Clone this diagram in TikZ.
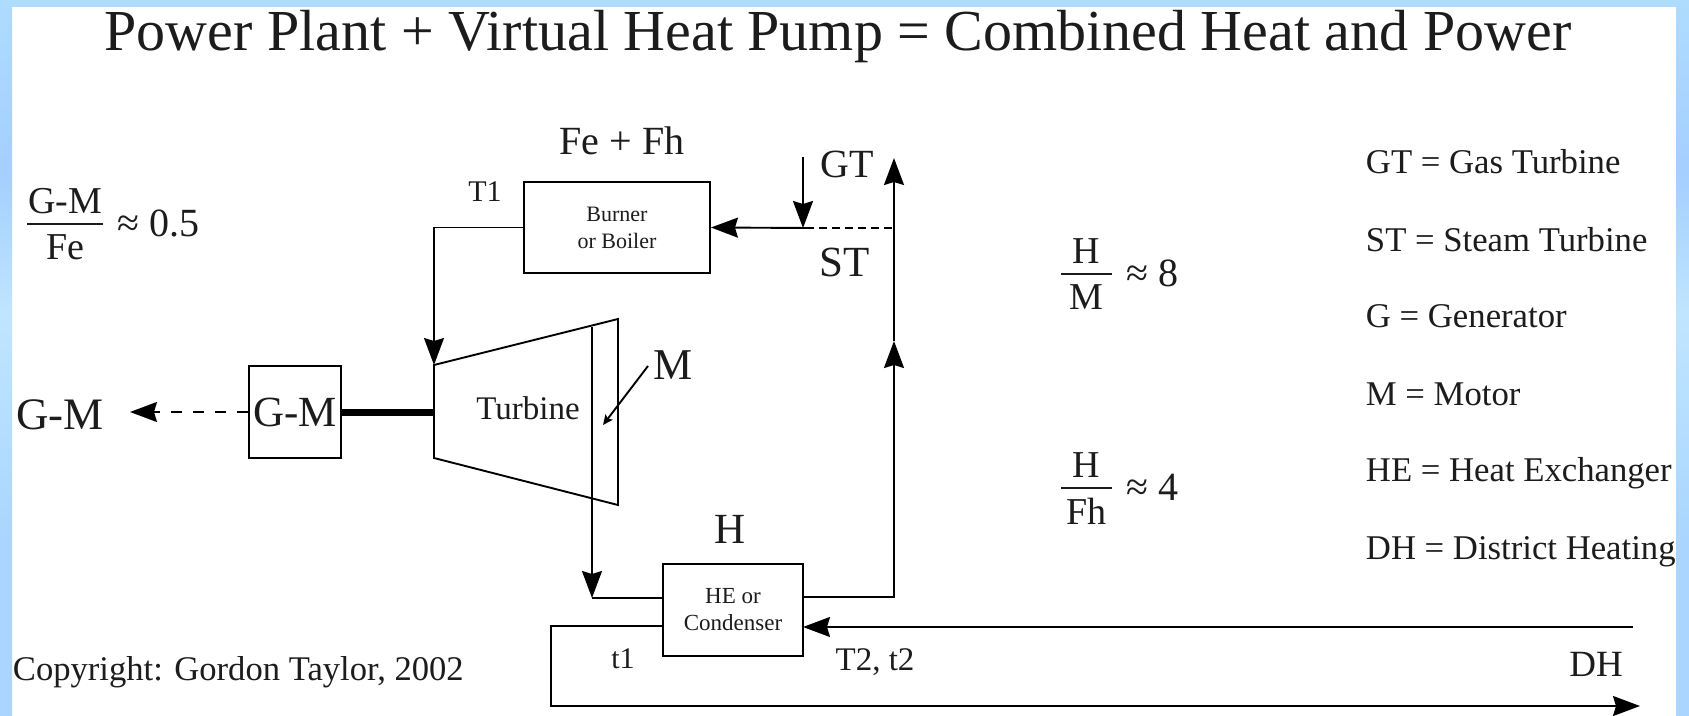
\documentclass[tikz,border=0pt]{standalone}
\usepackage{fontspec}
\setmainfont{Liberation Serif}
\usetikzlibrary{arrows.meta}
\definecolor{panelblue}{HTML}{AEDCFF}
\definecolor{inkgray}{HTML}{1C1C1C}
\pgfdeclareverticalshading{framefade}{100bp}{
    color(0bp)=(panelblue!70!blue!45!panelblue);
    color(25bp)=(blue!3!panelblue);
    color(37bp)=(blue!3!panelblue);
    color(53bp)=(cyan!4!white!25!panelblue);
    color(63bp)=(blue!6!panelblue);
    color(75bp)=(panelblue);
    color(100bp)=(panelblue)}
\begin{document}
\begin{tikzpicture}[
        x=1pt, y=-1pt,
        line width=1.9pt,
        >={Stealth[length=27pt, width=20pt, inset=3pt]},
        lab/.style={inner sep=0pt, text=inkgray, font=\fontsize{#1}{#1}\selectfont},
        box/.style={draw, rectangle, inner sep=0pt, align=center, text=inkgray},
        flow/.style={->, draw=black},
        dashflow/.style={draw=black, dash pattern=on 8pt off 5pt}
    ]
        \useasboundingbox (0,0) rectangle (1689,715);
        \fill[white] (0,0) rectangle (1689,715);

        % Boxes
        \node[box, minimum width=186pt, minimum height=91pt, font=\fontsize{22}{27}\selectfont] (Burner) at (617,227.5) {Burner\\or Boiler};
        \node[box, minimum width=140pt, minimum height=92pt, font=\fontsize{23}{27}\selectfont] (HE) at (733,610) {HE or\\Condenser};
        \node[box, minimum width=92pt, minimum height=92pt, font=\fontsize{43}{43}\selectfont] (GMbox) at (295,412) {G-M};

        % Turbine
        \coordinate (Ta) at (434,365);
        \coordinate (Tb) at (618,319);
        \coordinate (Tc) at (618,505);
        \coordinate (Td) at (434,458);
        \draw (Ta) -- (Tb) -- (Tc) -- (Td) -- cycle;
        \node[lab=33] (Turbine) at (528,408) {Turbine};

        % Free ends and corners
        \coordinate (Junction) at (803,228);
        \coordinate (DashEnd) at (812,228);
        \coordinate (GTstart) at (803,157);
        \coordinate (Riser) at (892,228);
        \coordinate (RiserTop) at (894,158);
        \coordinate (RiserMid) at (894,341);
        \coordinate (Mbar) at (592,327);
        \coordinate (Mend) at (592,598);
        \coordinate (HEin) at (663,598);
        \coordinate (HEout) at (803,597);
        \coordinate (HEret) at (663,626);
        \coordinate (HEsup) at (803,627);
        \coordinate (DHa) at (1633,627);
        \coordinate (DHb) at (1640,706);
        \coordinate (ShaftEnd) at (434,412);
        \coordinate (GMtip) at (130,412);
        \coordinate (Mfrom) at (648,366);
        \coordinate (Mto) at (603,425);

        % Steam loop
        \draw[flow] (Burner.west) -- (Burner.west -| Ta) -- (Ta);
        \draw[flow] (Mbar) -- (Mend);
        \draw (Mend) -- (HEin);
        \draw[flow] (HEout) -- (HEout -| RiserMid) -- (RiserMid);
        \draw[flow] (RiserMid) -- (RiserTop);
        \draw[dashflow] (Riser) -- (DashEnd);
        \draw[flow] (GTstart) -- (Junction);
        \draw[flow] (DashEnd) -- (Burner.east);

        % Shaft and power out
        \draw[line width=7pt] (GMbox.east) -- (ShaftEnd);
        \draw[flow, dash pattern=on 11pt off 11pt] (GMbox.west) -- (GMtip);
        \draw[->, >={Stealth[length=10pt, width=9pt, inset=2pt]}] (Mfrom) -- (Mto);

        % District heating
        \draw[flow] (DHa) -- (HEsup);
        \draw[flow] (HEret) -- (HEret -| 551,0) -- (551,706) -- (DHb);

        % Labels
        \node[lab=58] (Title) at (838,37) {Power Plant + Virtual Heat Pump = Combined Heat and Power};
        \node[lab=40] (Fuel) at (622,141) {Fe + Fh};
        \node[lab=30] (Tone) at (485,192) {T1};
        \node[lab=40] (GT) at (847,164) {GT};
        \node[lab=43] (ST) at (845,262) {ST};
        \node[lab=44] (Mlab) at (673,365) {M};
        \node[lab=43] (Hlab) at (730,529) {H};
        \node[lab=30] (tone) at (623,659) {t1};
        \node[lab=33] (Ttwo) at (875,662) {T2, t2};
        \node[lab=37] (DHlab) at (1596,664) {DH};
        \node[lab=45] (GMout) at (60,415) {G-M};
        \node[lab=34.6, anchor=west] (Copy) at (12,672) {Copyright: Gordon Taylor, 2002};

        % Ratios
        \foreach \nm/\num/\den/\val/\xa/\xb/\ya in {a/G-M/Fe/0.5/27/103/224, b/H/M/8/1061/1112/274, c/H/Fh/4/1061/1112/488} {
            \node[lab=38] (\nm top) at ({(\xa+\xb)/2},\ya-23) {\num};
            \node[lab=38] (\nm bot) at ({(\xa+\xb)/2},\ya+23) {\den};
            \coordinate (\nm L) at (\xa,\ya);
            \coordinate (\nm R) at (\xb,\ya);
            \draw[line width=2pt, draw=inkgray] (\nm L) -- (\nm R);
            \node[lab=40, anchor=west] (\nm val) at (\xb+14,\ya-1) {≈ \val};
        }

        % Legend
        \foreach \k/\txt/\ypos in {1/GT = Gas Turbine/162, 2/ST = Steam Turbine/240, 3/G = Generator/316, 4/M = Motor/394, 5/HE = Heat Exchanger/473, 6/DH = District Heating/552} {
            \node[lab=34.7, anchor=west] (Leg\k) at (1365,\ypos) {\txt};
        }

        % Blue frame
        \fill[panelblue] (0,0) rectangle (1689,7);
        \shade[shading=framefade] (0,0) rectangle (12,715);
        \shade[shading=framefade] (1676,0) rectangle (1689,715);
    \end{tikzpicture}
\end{document}
